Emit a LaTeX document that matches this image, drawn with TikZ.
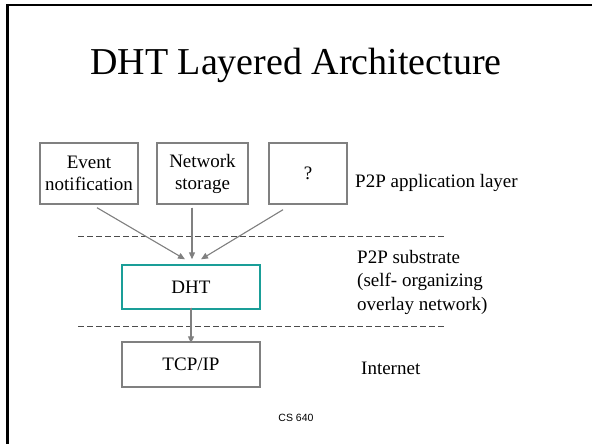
\documentclass[tikz,border=0pt]{standalone}
\usepackage{fontspec}
\setmainfont{Liberation Serif}
\newfontfamily\slidesans{Liberation Sans}
\usetikzlibrary{arrows.meta, positioning}
\definecolor{DHTTeal}{HTML}{1A9E98}
\definecolor{BoxGray}{HTML}{808080}

\begin{document}
\begin{tikzpicture}[x=1pt, y=-1pt, >={Triangle[length=7pt, width=6pt]},
  box/.style={draw=BoxGray, line width=1.4pt, align=center, inner sep=0pt,
    font=\fontsize{19}{22}\selectfont},
  arr/.style={->, draw=BoxGray, fill=BoxGray, line width=1.1pt},
  layer/.style={anchor=west, align=left, inner sep=0pt,
    font=\fontsize{19}{23.5}\selectfont},
  sep/.style={dash pattern=on 6pt off 3pt, line width=0.8pt, black!70}]
  \useasboundingbox (0,0) rectangle (592,444);
  % slide frame
  \draw[line width=2.5pt] (7.5,460) -- (7.5,5) -- (610,5);
  \node[anchor=base, font=\fontsize{38}{40}\selectfont] (title) at (296,75) {DHT Layered Architecture};

  % Application layer
  \node[box, minimum width=98, minimum height=61] (event) at (89,173.5) {Event\\notification};
  \node[box, minimum width=91, minimum height=61] (store) at (202.5,173.5) {Network\\storage};
  \node[box, minimum width=78, minimum height=61] (other) at (308,173.5) {?};
  \node[layer] (applbl) at (355,183) {P2P application layer};

  % Substrate
  \draw[sep] (78,236) -- (445,236);
  \node[box, draw=DHTTeal, minimum width=138, minimum height=44] (dht) at (191,287) {DHT};
  \node[layer] (sublbl) at (357,282) {P2P substrate\\(self- organizing\\overlay network)};
  \draw[sep] (78,326) -- (445,326);

  % Internet
  \node[box, minimum width=138, minimum height=45] (tcp) at (191,364.5) {TCP/IP};
  \node[layer] (netlbl) at (361,368) {Internet};

  \draw[arr] ([shift={(8,3)}]event.south) -- ([shift={(-6,-5)}]dht.north);
  \draw[arr] ([shift={(-10.5,3)}]store.south) -- ([shift={(1,-5)}]dht.north);
  \draw[arr] ([shift={(-25,5)}]other.south) -- ([shift={(10,-5)}]dht.north);
  \draw[arr] ([yshift=2]dht.south) -- ([yshift=-2]tcp.north);

  \node[font=\slidesans\fontsize{10.5}{12}\selectfont] (foot) at (296,418) {CS 640};
\end{tikzpicture}
\end{document}
